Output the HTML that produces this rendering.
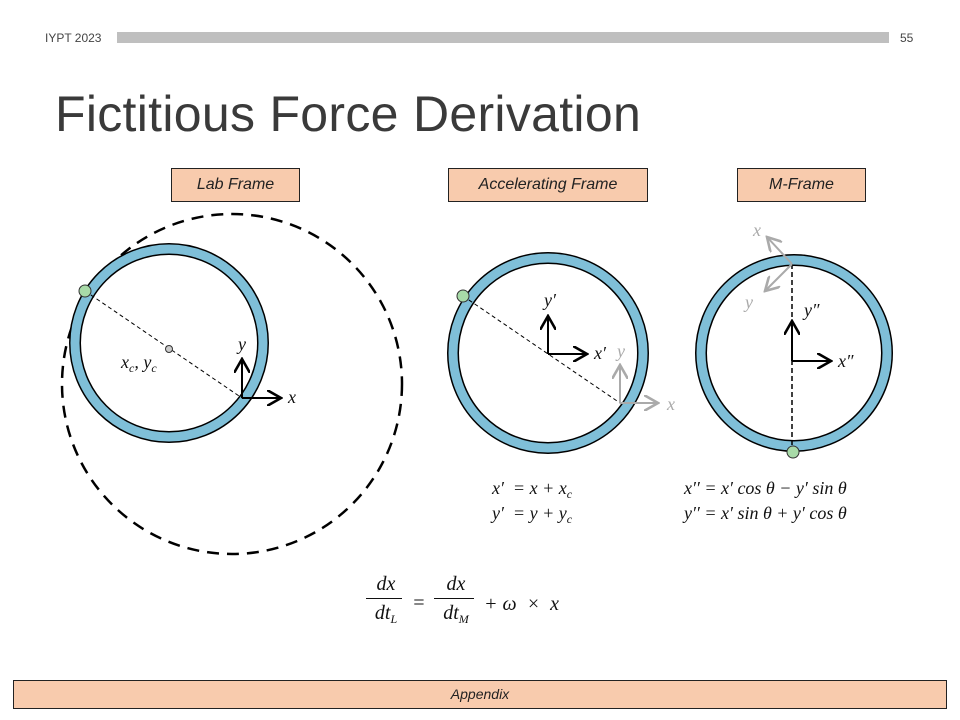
<!DOCTYPE html>
<html><head><meta charset="utf-8"><style>
body{margin:0;background:#fff;}
#s{position:relative;width:960px;height:720px;overflow:hidden;font-family:"Liberation Sans",sans-serif;}
.t{position:absolute;white-space:nowrap;}
.box{position:absolute;background:#f8cbad;border:1.5px solid #222;box-sizing:border-box;text-align:center;font-style:italic;font-size:16px;color:#222;}
.m{font-family:"Liberation Serif",serif;font-style:italic;font-size:19px;color:#111;}
sub{font-size:12px;vertical-align:baseline;position:relative;top:4px;line-height:0;}
</style></head><body>
<div id="s">
<div class="t" style="left:45px;top:31px;font-size:12px;color:#444">IYPT 2023</div>
<div style="position:absolute;left:117px;top:32px;width:772px;height:11px;background:#bfbfbf"></div>
<div class="t" style="left:900px;top:31px;font-size:12px;color:#444">55</div>
<div class="t" style="left:55px;top:85px;font-size:50px;color:#3a3a3a;letter-spacing:0.3px">Fictitious Force Derivation</div>
<div class="box" style="left:171px;top:168px;width:129px;height:34px;line-height:32px">Lab Frame</div>
<div class="box" style="left:448px;top:168px;width:200px;height:34px;line-height:32px">Accelerating Frame</div>
<div class="box" style="left:737px;top:168px;width:129px;height:34px;line-height:32px">M-Frame</div>
<div class="box" style="left:13px;top:680px;width:934px;height:29px;line-height:27px;font-size:14px">Appendix</div>
<svg width="960" height="720" style="position:absolute;left:0;top:0">
<defs><marker id="a" markerWidth="8" markerHeight="8" refX="7" refY="4" orient="auto"><path d="M0,0 L7,4 L0,8" fill="none" stroke="#000" stroke-width="1.3"/></marker>
<marker id="g" markerWidth="8" markerHeight="8" refX="7" refY="4" orient="auto"><path d="M0,0 L7,4 L0,8" fill="none" stroke="#aaa" stroke-width="1.3"/></marker></defs>
<g>
<circle cx="232" cy="384" r="170" fill="none" stroke="#000" stroke-width="2.5" stroke-dasharray="12,8"/>
<circle cx="169" cy="343" r="94" fill="none" stroke="#000" stroke-width="12"/>
<circle cx="169" cy="343" r="94" fill="none" stroke="#7fbfd8" stroke-width="9"/>
<line x1="85" y1="291" x2="242" y2="398" stroke="#000" stroke-dasharray="4,3"/>
<circle cx="169" cy="349" r="3.5" fill="#ccc" stroke="#333"/>
<circle cx="85" cy="291" r="6" fill="#a8dba8" stroke="#333"/>
<line x1="242" y1="398" x2="281" y2="398" stroke="#000" stroke-width="2" marker-end="url(#a)"/>
<line x1="242" y1="398" x2="242" y2="359" stroke="#000" stroke-width="2" marker-end="url(#a)"/>
</g>
<g>
<circle cx="548" cy="353" r="95" fill="none" stroke="#000" stroke-width="12"/>
<circle cx="548" cy="353" r="95" fill="none" stroke="#7fbfd8" stroke-width="9"/>
<line x1="463" y1="296" x2="620" y2="403" stroke="#000" stroke-dasharray="4,3"/>
<circle cx="463" cy="296" r="6" fill="#a8dba8" stroke="#333"/>
<line x1="548" y1="354" x2="587" y2="354" stroke="#000" stroke-width="2" marker-end="url(#a)"/>
<line x1="548" y1="354" x2="548" y2="316" stroke="#000" stroke-width="2" marker-end="url(#a)"/>
<line x1="620" y1="403" x2="658" y2="403" stroke="#aaa" stroke-width="2" marker-end="url(#g)"/>
<line x1="620" y1="403" x2="620" y2="365" stroke="#aaa" stroke-width="2" marker-end="url(#g)"/>
</g>
<g>
<circle cx="794" cy="353" r="93" fill="none" stroke="#000" stroke-width="12"/>
<circle cx="794" cy="353" r="93" fill="none" stroke="#7fbfd8" stroke-width="9"/>
<line x1="792" y1="264" x2="792" y2="446" stroke="#000" stroke-width="1.5" stroke-dasharray="5,3"/>
<circle cx="793" cy="452" r="6" fill="#a8dba8" stroke="#333"/>
<line x1="792" y1="361" x2="831" y2="361" stroke="#000" stroke-width="2" marker-end="url(#a)"/>
<line x1="792" y1="361" x2="792" y2="321" stroke="#000" stroke-width="2" marker-end="url(#a)"/>
<line x1="792" y1="264" x2="767" y2="237" stroke="#aaa" stroke-width="2" marker-end="url(#g)"/>
<line x1="792" y1="264" x2="765" y2="291" stroke="#aaa" stroke-width="2" marker-end="url(#g)"/>
</g>
</svg>
<div class="t m" style="left:121px;top:352px;font-size:18px">x<sub>c</sub>, y<sub>c</sub></div>
<div class="t m" style="left:238px;top:334px;font-size:18px">y</div>
<div class="t m" style="left:288px;top:387px;font-size:18px">x</div>
<div class="t m" style="left:544px;top:290px;font-size:18px">y′</div>
<div class="t m" style="left:594px;top:343px;font-size:18px">x′</div>
<div class="t m" style="left:617px;top:341px;font-size:18px;color:#aaa">y</div>
<div class="t m" style="left:667px;top:394px;font-size:18px;color:#aaa">x</div>
<div class="t m" style="left:804px;top:300px;font-size:18px">y″</div>
<div class="t m" style="left:838px;top:351px;font-size:18px">x″</div>
<div class="t m" style="left:753px;top:220px;font-size:18px;color:#aaa">x</div>
<div class="t m" style="left:745px;top:292px;font-size:18px;color:#aaa">y</div>
<div class="t m" style="left:492px;top:476px;font-size:18px;line-height:25px">x′ &nbsp;= x + x<sub>c</sub><br>y′ &nbsp;= y + y<sub>c</sub></div>
<div class="t m" style="left:684px;top:476px;font-size:18px;line-height:25px">x′′ = x′ cos θ − y′ sin θ<br>y′′ = x′ sin θ + y′ cos θ</div>
<div class="t m" style="left:370px;top:570px;text-align:center;line-height:28px;font-size:20px">dx<div style="border-top:1.3px solid #111;width:36px;margin-left:-4px"></div>dt<sub>L</sub></div>
<div class="t m" style="left:412px;top:592px;font-size:20px">=</div>
<div class="t m" style="left:438px;top:570px;text-align:center;line-height:28px;font-size:20px">dx<div style="border-top:1.3px solid #111;width:40px;margin-left:-4px"></div>dt<sub>M</sub></div>
<div class="t m" style="left:484px;top:593px;font-size:20px">+ ω &nbsp;× &nbsp;x</div>
</div>
</body></html>
